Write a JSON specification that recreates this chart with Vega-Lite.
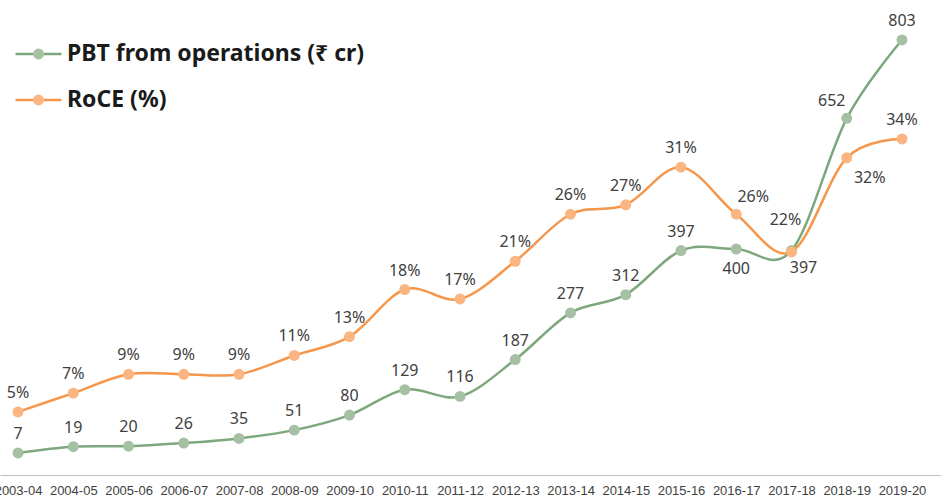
{
  "$schema": "https://vega.github.io/schema/vega-lite/v6.json",
  "width": 941,
  "height": 475,
  "autosize": {"type": "none"},
  "padding": {"left": 0, "top": 0, "right": 0, "bottom": 22},
  "config": {"view": {"stroke": null}, "font": "Noto Sans"},
  "data": {
    "values": [
      {"year": "2003-04", "series": "PBT from operations (₹ cr)", "value": 7},
      {"year": "2004-05", "series": "PBT from operations (₹ cr)", "value": 19},
      {"year": "2005-06", "series": "PBT from operations (₹ cr)", "value": 20},
      {"year": "2006-07", "series": "PBT from operations (₹ cr)", "value": 26},
      {"year": "2007-08", "series": "PBT from operations (₹ cr)", "value": 35},
      {"year": "2008-09", "series": "PBT from operations (₹ cr)", "value": 51},
      {"year": "2009-10", "series": "PBT from operations (₹ cr)", "value": 80},
      {"year": "2010-11", "series": "PBT from operations (₹ cr)", "value": 129},
      {"year": "2011-12", "series": "PBT from operations (₹ cr)", "value": 116},
      {"year": "2012-13", "series": "PBT from operations (₹ cr)", "value": 187},
      {"year": "2013-14", "series": "PBT from operations (₹ cr)", "value": 277},
      {"year": "2014-15", "series": "PBT from operations (₹ cr)", "value": 312},
      {"year": "2015-16", "series": "PBT from operations (₹ cr)", "value": 397},
      {"year": "2016-17", "series": "PBT from operations (₹ cr)", "value": 400},
      {"year": "2017-18", "series": "PBT from operations (₹ cr)", "value": 397},
      {"year": "2018-19", "series": "PBT from operations (₹ cr)", "value": 652},
      {"year": "2019-20", "series": "PBT from operations (₹ cr)", "value": 803},
      {"year": "2003-04", "series": "RoCE (%)", "value": 0.05},
      {"year": "2004-05", "series": "RoCE (%)", "value": 0.07},
      {"year": "2005-06", "series": "RoCE (%)", "value": 0.09},
      {"year": "2006-07", "series": "RoCE (%)", "value": 0.09},
      {"year": "2007-08", "series": "RoCE (%)", "value": 0.09},
      {"year": "2008-09", "series": "RoCE (%)", "value": 0.11},
      {"year": "2009-10", "series": "RoCE (%)", "value": 0.13},
      {"year": "2010-11", "series": "RoCE (%)", "value": 0.18},
      {"year": "2011-12", "series": "RoCE (%)", "value": 0.17},
      {"year": "2012-13", "series": "RoCE (%)", "value": 0.21},
      {"year": "2013-14", "series": "RoCE (%)", "value": 0.26},
      {"year": "2014-15", "series": "RoCE (%)", "value": 0.27},
      {"year": "2015-16", "series": "RoCE (%)", "value": 0.31},
      {"year": "2016-17", "series": "RoCE (%)", "value": 0.26},
      {"year": "2017-18", "series": "RoCE (%)", "value": 0.22},
      {"year": "2018-19", "series": "RoCE (%)", "value": 0.32},
      {"year": "2019-20", "series": "RoCE (%)", "value": 0.34}
    ]
  },
  "encoding": {
    "x": {
      "field": "year",
      "type": "ordinal",
      "sort": null,
      "scale": {"type": "point", "padding": 0.516, "align": 0.316},
      "axis": {
        "title": null,
        "labelAngle": 0,
        "ticks": false,
        "grid": false,
        "labelPadding": 9,
        "labelFont": "Liberation Sans",
        "labelFontSize": 13,
        "labelColor": "#404040",
        "domainColor": "#bfbfbf",
        "domainWidth": 1,
        "labelOverlap": false,
        "labelBound": false
      }
    }
  },
  "layer": [
    {
      "transform": [{"filter": "datum.series === 'PBT from operations (₹ cr)'"}],
      "encoding": {
        "y": {
          "field": "value",
          "type": "quantitative",
          "scale": {"domain": [-35.5, 880], "nice": false, "zero": false},
          "axis": null
        }
      },
      "layer": [
        {
          "mark": {"type": "line", "interpolate": "cardinal", "strokeWidth": 2.5},
          "encoding": {
            "stroke": {
              "field": "series",
              "type": "nominal",
              "scale": {"domain": ["PBT from operations (₹ cr)", "RoCE (%)"], "range": ["#7da77c", "#f5964b"]},
              "legend": {
                "orient": "none",
                "legendX": 27,
                "legendY": 42.5,
                "title": null,
                "padding": 0,
                "symbolType": "M-4,0H-0.9M0.9,0H4",
                "symbolSize": 132,
                "symbolStrokeWidth": 2.5,
                "labelFontSize": 23,
                "labelFontWeight": "bold",
                "labelColor": "#1a1a1a",
                "labelOffset": 17,
                "rowPadding": 22,
                "labelLimit": 400
              }
            }
          }
        },
        {
          "mark": {"type": "circle", "size": 120, "opacity": 1},
          "encoding": {
            "fill": {
              "field": "series",
              "type": "nominal",
              "scale": {"range": ["#a5c0a3", "#fbb580"]},
              "legend": {
                "orient": "none",
                "legendX": 27,
                "legendY": 42.5,
                "title": null,
                "padding": 0,
                "symbolType": "circle",
                "symbolSize": 120,
                "symbolStrokeWidth": 0,
                "labelFontSize": 23,
                "labelFontWeight": "bold",
                "labelOpacity": 0,
                "labelOffset": 17,
                "rowPadding": 22,
                "labelLimit": 400
              }
            }
          }
        },
        {
          "transform": [{"filter": {"not": {"field": "year", "oneOf": ["2016-17", "2017-18", "2018-19"]}}}],
          "mark": {"type": "text", "fontSize": 16, "color": "#404040", "baseline": "middle", "dy": -19},
          "encoding": {"text": {"field": "value", "type": "quantitative", "format": "d"}}
        },
        {
          "transform": [{"filter": {"field": "year", "equal": "2016-17"}}],
          "mark": {"type": "text", "fontSize": 16, "color": "#404040", "baseline": "middle", "dy": 20},
          "encoding": {"text": {"field": "value", "type": "quantitative", "format": "d"}}
        },
        {
          "transform": [{"filter": {"field": "year", "equal": "2017-18"}}],
          "mark": {"type": "text", "fontSize": 16, "color": "#404040", "baseline": "middle", "dx": 12, "dy": 17},
          "encoding": {"text": {"field": "value", "type": "quantitative", "format": "d"}}
        },
        {
          "transform": [{"filter": {"field": "year", "equal": "2018-19"}}],
          "mark": {"type": "text", "fontSize": 16, "color": "#404040", "baseline": "middle", "dx": -15, "dy": -17},
          "encoding": {"text": {"field": "value", "type": "quantitative", "format": "d"}}
        }
      ]
    },
    {
      "transform": [{"filter": "datum.series === 'RoCE (%)'"}],
      "encoding": {
        "y": {
          "field": "value",
          "type": "quantitative",
          "scale": {"domain": [-0.017, 0.4876], "nice": false, "zero": false},
          "axis": null
        }
      },
      "layer": [
        {
          "mark": {"type": "line", "interpolate": "cardinal", "strokeWidth": 2.5},
          "encoding": {"stroke": {"field": "series", "type": "nominal"}}
        },
        {
          "mark": {"type": "circle", "size": 120, "opacity": 1},
          "encoding": {"fill": {"field": "series", "type": "nominal"}}
        },
        {
          "transform": [{"filter": {"not": {"field": "year", "oneOf": ["2016-17", "2017-18", "2018-19"]}}}],
          "mark": {"type": "text", "fontSize": 16, "color": "#404040", "baseline": "middle", "dy": -19},
          "encoding": {"text": {"field": "value", "type": "quantitative", "format": ".0%"}}
        },
        {
          "transform": [{"filter": {"field": "year", "equal": "2016-17"}}],
          "mark": {"type": "text", "fontSize": 16, "color": "#404040", "baseline": "middle", "dx": 17, "dy": -17},
          "encoding": {"text": {"field": "value", "type": "quantitative", "format": ".0%"}}
        },
        {
          "transform": [{"filter": {"field": "year", "equal": "2017-18"}}],
          "mark": {"type": "text", "fontSize": 16, "color": "#404040", "baseline": "middle", "dx": -6, "dy": -32},
          "encoding": {"text": {"field": "value", "type": "quantitative", "format": ".0%"}}
        },
        {
          "transform": [{"filter": {"field": "year", "equal": "2018-19"}}],
          "mark": {"type": "text", "fontSize": 16, "color": "#404040", "baseline": "middle", "dx": 23, "dy": 20},
          "encoding": {"text": {"field": "value", "type": "quantitative", "format": ".0%"}}
        }
      ]
    }
  ],
  "resolve": {"scale": {"y": "independent"}}
}
